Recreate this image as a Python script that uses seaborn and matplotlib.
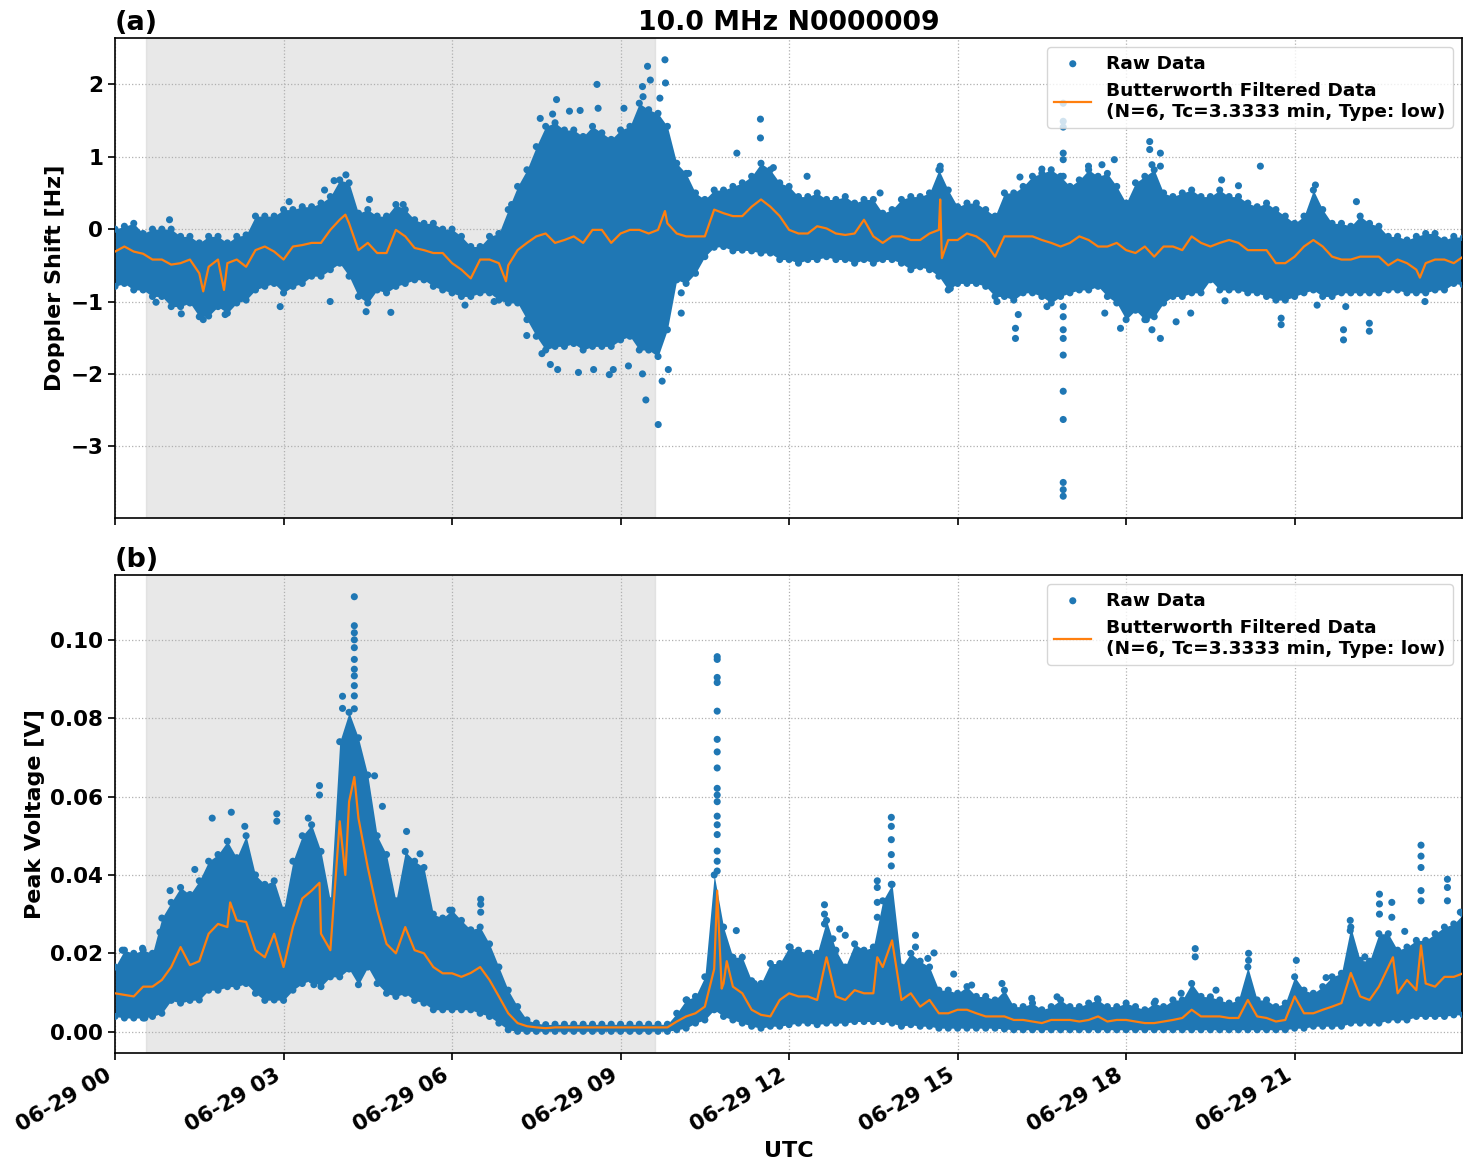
import numpy as np
import pandas as pd
import matplotlib
matplotlib.use("Agg")
import matplotlib.pyplot as plt
import matplotlib.dates as mdates
import seaborn as sns

# ---------------- data (hours after 2024-06-29 00:00 UTC) ----------------
grid_h = [i / 6 for i in range(145)]  # 10-minute sampling of the envelopes

dop_hi = [0.0, 0.04, 0.08, -0.06, 0.0, 0.0, 0.0, -0.1, -0.1, -0.19, -0.1, -0.1,
          -0.19, -0.1, -0.08, 0.18, 0.18, 0.18, 0.27, 0.27, 0.31, 0.31, 0.36, 0.45,
          0.68, 0.64, 0.22, 0.27, 0.18, 0.18, 0.34, 0.27, 0.13, 0.08, 0.08, 0.0,
          0.0, -0.1, -0.24, -0.24, -0.1, -0.06, 0.27, 0.59, 0.82, 1.14, 1.42, 1.47,
          1.37, 1.37, 1.28, 1.42, 1.33, 1.24, 1.37, 1.42, 1.74, 1.65, 1.6, 1.42,
          0.91, 0.77, 0.5, 0.41, 0.54, 0.54, 0.59, 0.64, 0.73, 0.91, 0.82, 0.64,
          0.59, 0.45, 0.45, 0.5, 0.41, 0.41, 0.45, 0.36, 0.41, 0.41, 0.22, 0.27,
          0.41, 0.45, 0.45, 0.5, 0.82, 0.54, 0.31, 0.36, 0.36, 0.27, 0.18, 0.5,
          0.5, 0.59, 0.73, 0.77, 0.82, 0.73, 0.59, 0.68, 0.82, 0.73, 0.77, 0.59,
          0.36, 0.64, 0.73, 0.82, 0.5, 0.45, 0.5, 0.54, 0.45, 0.45, 0.54, 0.45,
          0.45, 0.36, 0.31, 0.36, 0.27, 0.18, 0.08, 0.18, 0.54, 0.27, 0.08, 0.08,
          0.04, 0.18, 0.08, 0.04, -0.1, -0.1, -0.15, -0.1, -0.06, -0.06, -0.15, -0.1,
          -0.12]
dop_lo = [-0.79, -0.75, -0.84, -0.84, -0.93, -0.93, -1.07, -1.07, -1.02, -1.21, -1.2, -1.07,
          -1.16, -1.02, -0.98, -0.84, -0.79, -0.75, -0.88, -0.79, -0.75, -0.65, -0.65, -0.56,
          -0.47, -0.65, -0.93, -1.02, -0.84, -0.88, -0.79, -0.75, -0.7, -0.7, -0.79, -0.84,
          -0.88, -0.93, -0.93, -0.88, -0.88, -0.98, -1.02, -1.02, -1.25, -1.48, -1.67, -1.62,
          -1.62, -1.58, -1.67, -1.62, -1.62, -1.62, -1.53, -1.48, -1.67, -1.67, -1.76, -1.39,
          -0.7, -0.75, -0.61, -0.38, -0.25, -0.24, -0.3, -0.29, -0.3, -0.33, -0.33, -0.42,
          -0.42, -0.47, -0.42, -0.42, -0.38, -0.42, -0.42, -0.47, -0.42, -0.47, -0.42, -0.42,
          -0.47, -0.56, -0.52, -0.56, -0.65, -0.84, -0.75, -0.75, -0.75, -0.79, -0.93, -0.93,
          -0.98, -0.88, -0.88, -0.93, -1.02, -0.93, -0.88, -0.84, -0.84, -0.79, -0.93, -1.02,
          -1.25, -1.12, -1.25, -1.21, -1.02, -0.93, -0.93, -0.88, -0.88, -0.7, -0.84, -0.84,
          -0.84, -0.88, -0.88, -0.93, -0.98, -0.98, -0.93, -0.88, -0.84, -0.93, -0.93, -0.88,
          -0.88, -0.88, -0.88, -0.88, -0.84, -0.84, -0.88, -0.88, -0.88, -0.84, -0.84, -0.75,
          -0.77]
dop_filt = [-0.31, -0.24, -0.31, -0.34, -0.42, -0.42, -0.49, -0.47, -0.42, -0.61, -0.52, -0.42,
            -0.47, -0.42, -0.52, -0.29, -0.24, -0.31, -0.42, -0.24, -0.22, -0.19, -0.19, -0.01,
            0.13, 0.08, -0.29, -0.19, -0.33, -0.33, -0.01, -0.1, -0.26, -0.29, -0.33, -0.33,
            -0.47, -0.56, -0.68, -0.42, -0.42, -0.47, -0.5, -0.29, -0.19, -0.1, -0.06, -0.19,
            -0.15, -0.1, -0.19, -0.01, -0.01, -0.19, -0.06, -0.01, -0.01, -0.06, -0.01, 0.08,
            -0.06, -0.1, -0.1, -0.1, 0.27, 0.22, 0.18, 0.18, 0.31, 0.41, 0.31, 0.18,
            -0.01, -0.06, -0.06, 0.04, 0.01, -0.06, -0.08, -0.06, 0.13, -0.1, -0.19, -0.1,
            -0.1, -0.15, -0.15, -0.06, -0.01, -0.15, -0.15, -0.06, -0.1, -0.19, -0.38, -0.1,
            -0.1, -0.1, -0.1, -0.15, -0.19, -0.24, -0.19, -0.1, -0.15, -0.24, -0.24, -0.19,
            -0.29, -0.33, -0.24, -0.38, -0.24, -0.24, -0.29, -0.1, -0.19, -0.24, -0.19, -0.15,
            -0.19, -0.29, -0.29, -0.29, -0.47, -0.47, -0.38, -0.24, -0.15, -0.24, -0.38, -0.42,
            -0.42, -0.38, -0.38, -0.38, -0.5, -0.42, -0.47, -0.56, -0.47, -0.42, -0.42, -0.47,
            -0.38]
dop_filt_extra_h = [1.57, 1.94, 4.1, 6.96, 9.79, 14.69, 14.72, 23.23]
dop_filt_extra_v = [-0.86, -0.84, 0.2, -0.72, 0.25, 0.41, -0.4, -0.67]

dop_out_h = [0.97, 1.18, 1.57, 1.96, 0.73, 2.94, 4.47, 4.91, 3.83, 4.11, 3.9, 3.73, 3.1, 4.53, 5.13,
             9.79, 9.48, 9.53, 9.8, 8.58, 7.86, 7.57, 7.79, 8.09, 8.28, 8.6, 9.06, 9.4, 9.7, 9.39,
             7.06, 11.49, 11.49, 11.07, 11.72, 10.06, 10.21,
             9.67, 9.45, 9.74, 9.85, 9.39, 8.8, 8.87, 8.25, 8.52, 7.88, 7.6, 7.75, 7.33, 9.14,
             10.08, 10.08, 6.23, 6.75,
             16.88, 16.88, 16.88, 16.88, 16.88, 16.88, 16.88, 16.88, 16.88, 16.88, 16.88, 16.88,
             16.88, 16.88, 16.88, 16.88,
             12.32, 14.69, 14.69, 16.03, 16.03, 16.08, 15.7, 17.9, 17.62, 17.33, 17.79, 17.57, 16.5,
             16.11, 13.62, 14.87, 16.59,
             18.42, 18.42, 18.61, 18.46, 18.61, 20.39, 21.37, 22.1, 19.7, 20.0, 18.61, 18.46, 18.36,
             20.76, 20.76, 21.87, 21.87, 22.33, 22.33, 18.89, 19.15, 19.76, 21.4, 21.91, 23.32]
dop_out_v = [0.13, -1.17, -1.25, -1.18, -1.01, -1.07, -1.14, -1.15, -1.0, 0.75, 0.67, 0.54, 0.38, 0.41, 0.34,
             2.34, 2.25, 2.06, 2.02, 2.0, 1.79, 1.53, 1.59, 1.63, 1.64, 1.67, 1.67, 1.83, 1.81, 1.97,
             0.34, 1.52, 1.26, 1.05, 0.85, 0.77, 0.77,
             -2.7, -2.36, -2.1, -1.94, -2.0, -2.01, -1.94, -1.98, -1.94, -1.94, -1.72, -1.87, -1.47, -1.89,
             -1.16, -0.88, -1.05, -1.0,
             1.74, 1.49, 1.41, 1.05, 0.96, 0.73, -1.07, -1.21, -1.39, -1.51, -1.74, -2.24,
             -2.63, -3.5, -3.6, -3.69,
             0.73, 0.87, 0.82, -1.51, -1.37, -1.18, -1.0, -1.37, -1.16, 0.87, 0.96, 0.89, 0.83,
             0.72, 0.5, -0.82, -1.07,
             1.21, 1.1, 1.05, 0.89, 0.87, 0.87, 0.61, 0.38, 0.68, 0.6, -1.51, -1.39, -1.25,
             -1.32, -1.23, -1.53, -1.39, -1.41, -1.3, -1.28, -1.16, -0.99, -1.05, -1.07, -1.0]

volt_hi = [0.0165, 0.0208, 0.02, 0.0208, 0.02, 0.029, 0.033, 0.0368, 0.035, 0.0385, 0.0435, 0.0452,
           0.0486, 0.0444, 0.05, 0.040, 0.0376, 0.0385, 0.031, 0.0435, 0.05, 0.0528, 0.046, 0.0334,
           0.074, 0.0815, 0.075, 0.0655, 0.05, 0.0452, 0.0334, 0.046, 0.0435, 0.0419, 0.030, 0.029,
           0.031, 0.0284, 0.026, 0.0267, 0.0224, 0.0165, 0.0106, 0.0064, 0.003, 0.0022, 0.0018, 0.0019,
           0.0019, 0.0019, 0.0019, 0.0019, 0.0019, 0.0019, 0.0019, 0.0019, 0.0019, 0.0019, 0.0019, 0.0019,
           0.0047, 0.0081, 0.009, 0.014, 0.040, 0.0267, 0.019, 0.019, 0.013, 0.0123, 0.0174, 0.0174,
           0.0216, 0.0208, 0.02, 0.02, 0.0284, 0.0208, 0.0165, 0.0224, 0.0208, 0.0216, 0.0334, 0.0376,
           0.0165, 0.02, 0.018, 0.0165, 0.0106, 0.0106, 0.0098, 0.0115, 0.009, 0.009, 0.0081, 0.0106,
           0.0064, 0.0064, 0.0073, 0.0056, 0.0064, 0.0081, 0.0064, 0.0064, 0.0073, 0.0081, 0.0064, 0.0064,
           0.0073, 0.0064, 0.0056, 0.0073, 0.0064, 0.0081, 0.0081, 0.0123, 0.009, 0.0089, 0.0081, 0.0073,
           0.0081, 0.0165, 0.0081, 0.0081, 0.0064, 0.0073, 0.014, 0.0106, 0.0098, 0.0115, 0.014, 0.0149,
           0.0267, 0.0182, 0.018, 0.025, 0.025, 0.0208, 0.0216, 0.0233, 0.0233, 0.025, 0.0267, 0.0275,
           0.030]
volt_lo = [0.0039, 0.0035, 0.0035, 0.0035, 0.0039, 0.0047, 0.008, 0.0073, 0.008, 0.0081, 0.0106, 0.0106,
           0.0115, 0.0115, 0.0123, 0.0098, 0.008, 0.0081, 0.008, 0.0106, 0.0123, 0.0132, 0.0115, 0.014,
           0.014, 0.016, 0.012, 0.0165, 0.0123, 0.0098, 0.009, 0.0098, 0.008, 0.0073, 0.0056, 0.0056,
           0.0056, 0.0056, 0.0056, 0.0047, 0.0039, 0.0022, 0.0005, 0.0001, 0.0001, 0.0001, 0.0001, 0.0001,
           0.0001, 0.0001, 0.0001, 0.0001, 0.0001, 0.0001, 0.0001, 0.0001, 0.0001, 0.0001, 0.0001, 0.0001,
           0.0005, 0.0009, 0.0022, 0.003, 0.0056, 0.0039, 0.003, 0.0022, 0.0014, 0.0009, 0.0014, 0.0014,
           0.0018, 0.0022, 0.0022, 0.0018, 0.0022, 0.0022, 0.0022, 0.0026, 0.0026, 0.0026, 0.0026, 0.0022,
           0.0014, 0.0018, 0.0014, 0.0014, 0.0009, 0.0009, 0.0009, 0.0009, 0.0009, 0.0009, 0.0009, 0.0007,
           0.0005, 0.0005, 0.0005, 0.0005, 0.0005, 0.0005, 0.0005, 0.0005, 0.0005, 0.0005, 0.0005, 0.0005,
           0.0005, 0.0005, 0.0005, 0.0005, 0.0005, 0.0005, 0.0005, 0.0005, 0.0005, 0.0005, 0.0005, 0.0005,
           0.0005, 0.0005, 0.0005, 0.0005, 0.0005, 0.0005, 0.0009, 0.0009, 0.0014, 0.0014, 0.0014, 0.0014,
           0.0022, 0.0022, 0.0022, 0.0022, 0.003, 0.003, 0.003, 0.0039, 0.0039, 0.0039, 0.0039, 0.0043,
           0.0043]
volt_filt = [0.0098, 0.0094, 0.009, 0.0115, 0.0115, 0.0132, 0.0165, 0.0216, 0.017, 0.018, 0.025, 0.0275,
             0.0267, 0.0284, 0.028, 0.0208, 0.019, 0.025, 0.0165, 0.0267, 0.034, 0.036, 0.025, 0.0208,
             0.0537, 0.0587, 0.0545, 0.0419, 0.031, 0.0224, 0.02, 0.0267, 0.0208, 0.02, 0.0165, 0.0149,
             0.0149, 0.014, 0.015, 0.0165, 0.0132, 0.009, 0.0047, 0.0022, 0.0014, 0.0011, 0.0009, 0.0011,
             0.0011, 0.0011, 0.0011, 0.0011, 0.0011, 0.0011, 0.0011, 0.0011, 0.0011, 0.0011, 0.0011, 0.0011,
             0.0026, 0.0039, 0.0047, 0.0064, 0.016, 0.0123, 0.0115, 0.0098, 0.0056, 0.0043, 0.0039, 0.0081,
             0.0098, 0.009, 0.009, 0.0081, 0.019, 0.009, 0.0081, 0.0106, 0.0098, 0.0098, 0.0165, 0.0233,
             0.0081, 0.0098, 0.0064, 0.0081, 0.0047, 0.0047, 0.0056, 0.0056, 0.0047, 0.0039, 0.0039, 0.0039,
             0.003, 0.003, 0.0026, 0.0022, 0.003, 0.003, 0.003, 0.0026, 0.003, 0.0039, 0.0026, 0.003,
             0.003, 0.0026, 0.0022, 0.0022, 0.0026, 0.003, 0.0035, 0.0056, 0.0039, 0.0039, 0.0039, 0.0035,
             0.0035, 0.0081, 0.0039, 0.0035, 0.0026, 0.003, 0.009, 0.0047, 0.0047, 0.0056, 0.0064, 0.0073,
             0.015, 0.009, 0.0081, 0.0115, 0.0165, 0.0098, 0.0132, 0.0106, 0.0123, 0.0115, 0.014, 0.014,
             0.0149]
volt_filt_extra_h = [2.05, 3.64, 4.1, 4.26, 10.72, 10.8, 10.89, 13.57, 22.75, 23.25]
volt_filt_extra_v = [0.033, 0.038, 0.040, 0.065, 0.036, 0.011, 0.018, 0.019, 0.019, 0.022]

volt_out_h = [4.26] * 11 + [4.05, 4.05, 3.64, 3.64, 4.62, 4.76, 2.07, 1.73, 2.88, 2.88, 2.31, 3.44, 5.19,
              5.43, 1.42, 0.98, 0.8, 0.13, 0.49, 0.53, 3.54] + [10.72] * 17 + \
             [6.51, 6.51, 6.51, 5.96, 10.18, 12.02, 11.06, 11.38] + [13.82] * 6 + [13.57] * 4 + \
             [12.63] * 3 + [12.9, 13.0, 14.25, 14.25, 14.47, 14.58, 12.78, 12.36, 14.93, 15.25, 15.79,
                            16.32, 16.77, 17.49] + [23.25] * 5 + [23.72] * 3 + [22.51] * 3 + \
             [22.73] * 2 + [21.99] * 2 + [22.96, 23.95, 19.23, 19.23, 20.18, 20.18, 21.03, 21.56, 22.25,
                                          18.98, 19.6, 18.52]
volt_out_v = [0.111, 0.1036, 0.1018, 0.1, 0.098, 0.095, 0.0925, 0.0908, 0.0883, 0.0857, 0.0824,
              0.0856, 0.0825, 0.0628, 0.0604, 0.0653, 0.0575, 0.056, 0.0545, 0.0556, 0.0537, 0.0524,
              0.0545, 0.0511, 0.0454, 0.0414, 0.036, 0.0254, 0.0208, 0.0213, 0.0035, 0.012,
              0.0957, 0.095, 0.0904, 0.0891, 0.0818, 0.0746, 0.0714, 0.0673, 0.0621, 0.0604, 0.0587,
              0.055, 0.0528, 0.0503, 0.0461, 0.0435, 0.041,
              0.0338, 0.0325, 0.0305, 0.031, 0.0081, 0.0216, 0.0258, 0.0123,
              0.0547, 0.0524, 0.049, 0.0452, 0.0423, 0.0376,
              0.0385, 0.0368, 0.033, 0.0292,
              0.0324, 0.030, 0.0275,
              0.0262, 0.0246, 0.0246, 0.0216, 0.0187, 0.0201, 0.0237, 0.02, 0.0147, 0.0119, 0.0123,
              0.0085, 0.0089, 0.0084,
              0.0476, 0.0448, 0.0419, 0.036, 0.0334,
              0.0389, 0.0368, 0.0334,
              0.0351, 0.0326, 0.030,
              0.033, 0.0292,
              0.0284, 0.0258,
              0.0256, 0.0305, 0.0212, 0.0191, 0.02, 0.0182, 0.0182, 0.0138, 0.0191, 0.0098, 0.0106, 0.0078]

night_h = [0.55, 9.61]
title_txt = "10.0 MHz N0000009"
raw_label = "Raw Data"
filt_label = "Butterworth Filtered Data\n(N=6, Tc=3.3333 min, Type: low)"

for arr in (dop_hi, dop_lo, dop_filt, volt_hi, volt_lo, volt_filt):
    assert len(arr) == len(grid_h), len(arr)
assert len(dop_out_h) == len(dop_out_v)
assert len(volt_out_h) == len(volt_out_v)

# ---------------- plotting ----------------
BASE = pd.Timestamp("2024-06-29 00:00")
BLUE, ORANGE = "#1f77b4", "#ff7f0e"

plt.rcParams["font.family"] = ["DejaVu Sans"]
plt.rcParams["font.weight"] = "bold"
plt.rcParams["axes.labelweight"] = "bold"
plt.rcParams["axes.titleweight"] = "bold"


def to_dt(hours):
    return BASE + pd.to_timedelta(np.asarray(hours, dtype=float), unit="h")


fig = plt.figure(figsize=(14.71, 11.72), dpi=100)
ax1 = fig.add_axes([0.0782, 0.558, 0.9157, 0.4096])
ax2 = fig.add_axes([0.0782, 0.1015, 0.9157, 0.4079], sharex=ax1)


def panel(ax, lo, hi, fv, eh, ev, oh, ov):
    ax.axvspan(to_dt([night_h[0]])[0], to_dt([night_h[1]])[0], color="lightgray", alpha=0.5, zorder=0)
    t = to_dt(grid_h)
    ax.fill_between(t, lo, hi, color=BLUE, linewidth=0, zorder=2)
    raw = pd.DataFrame({"t": to_dt(list(grid_h) * 2 + list(oh)), "v": list(lo) + list(hi) + list(ov)})
    sns.scatterplot(data=raw, x="t", y="v", ax=ax, color=BLUE, s=26, edgecolor="none", linewidth=0,
                    label=raw_label, zorder=3)
    pairs = sorted(zip(list(grid_h) + list(eh), list(fv) + list(ev)))
    filt = pd.DataFrame({"t": to_dt([p[0] for p in pairs]), "v": [p[1] for p in pairs]})
    sns.lineplot(data=filt, x="t", y="v", ax=ax, color=ORANGE, linewidth=1.6, label=filt_label,
                 estimator=None, sort=False, zorder=4)
    ax.grid(True, linestyle=":", color="#b0b0b0", linewidth=0.9)
    ax.legend(loc="upper right", prop={"weight": "bold", "size": 13.3})
    ax.tick_params(labelsize=15.5, width=1.2, length=5)
    for s in ax.spines.values():
        s.set_linewidth(1.2)


panel(ax1, dop_lo, dop_hi, dop_filt, dop_filt_extra_h, dop_filt_extra_v, dop_out_h, dop_out_v)
panel(ax2, volt_lo, volt_hi, volt_filt, volt_filt_extra_h, volt_filt_extra_v, volt_out_h, volt_out_v)

ax1.set_ylabel("Doppler Shift [Hz]", fontsize=16)
ax2.set_ylabel("Peak Voltage [V]", fontsize=16)
ax1.set_xlabel("")
ax2.set_xlabel("UTC", fontsize=16)
ax1.set_title(title_txt, fontsize=19.3)
ax1.set_title("(a)", loc="left", fontsize=19.5)
ax2.set_title("(b)", loc="left", fontsize=19.5)

ax2.xaxis.set_major_locator(mdates.HourLocator(byhour=range(0, 24, 3)))
ax2.xaxis.set_major_formatter(mdates.DateFormatter("%m-%d %H"))
ax2.set_xlim(to_dt([0])[0], to_dt([23.98])[0])
plt.setp(ax1.get_xticklabels(), visible=False)
for lbl in ax2.get_xticklabels():
    lbl.set_rotation(30)
    lbl.set_horizontalalignment("right")

fig.savefig("out.png", dpi=100)
